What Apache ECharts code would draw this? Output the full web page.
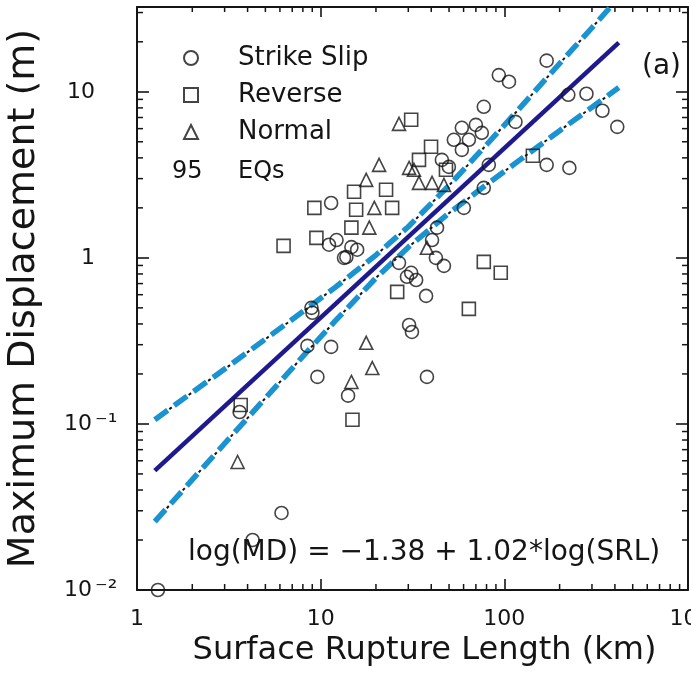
<!DOCTYPE html>
<html><head><meta charset="utf-8">
<script src="https://cdn.jsdelivr.net/npm/echarts@6/dist/echarts.min.js"></script>
<style>html,body{margin:0;padding:0;background:#fff}#c{width:691px;height:688px}</style>
</head><body><div id="c"></div>
<script>
// ---- data (SRL km, MD m) ----
const strikeSlip = [
 [1.30,0.0100],[4.26,0.0200],[6.12,0.0291],[9.02,0.467],[8.91,0.500],[8.47,0.295],[11.4,0.291],
 [9.60,0.192],[3.62,0.118],[14.1,0.148],[37.9,0.192],[30.3,0.394],[31.4,0.358],
 [46.9,0.895],[37.5,0.590],[13.8,1.01],[60.2,2.00],[77.3,2.64],[43.0,1.52],
 [170,15.4],[93.3,12.6],[106,11.5],[77.3,8.12],[223,9.59],[280,9.73],[342,7.69],
 [412,6.15],[170,3.63],[226,3.48],[58.7,6.07],[70.0,6.32],[75.4,5.66],[115,6.59],[82.3,3.63],
 [45.7,3.89],[49.9,3.53],[53.1,5.14],[64.1,5.14],[11.4,2.14],[11.1,1.20],[12.2,1.28],[13.4,1.00],
 [14.7,1.16],[15.8,1.12],[26.7,0.933],[31.1,0.813],[29.5,0.769],[33.1,0.736],[42.4,1.00],[40.4,1.28],
 [58.7,4.47]
];
const reverse = [
 [3.67,0.130],[14.9,0.106],[26.1,0.624],[64.1,0.493],[77.3,0.946],[95.6,0.813],
 [6.28,1.18],[9.24,2.00],[9.48,1.32],[15.2,2.50],[15.6,1.95],[24.5,2.00],[14.7,1.52],
 [31.1,6.78],[39.9,4.67],[143,4.12],[22.7,2.57],[34.3,3.89],[48.1,3.39]
];
const normal = [
 [3.53,0.0590],[17.7,0.308],[19.1,0.217],[14.7,0.179],[26.7,6.41],[20.8,3.63],
 [17.7,2.95],[19.6,2.00],[18.4,1.52],[34.3,2.83],[40.4,2.83],[37.9,1.15],[30.3,3.48],
 [32.2,3.39],[46.9,2.75]
];
const fitLine = [[1.25,0.0523],[420,19.75]];
const upperBand = [[1.25,0.106],[2,0.155],[3,0.214],[5,0.324],[8,0.475],[12,0.664],[20,1.04],
 [30,1.54],[50,2.73],[80,4.80],[120,7.87],[200,14.8],[300,24.3],[420,36.9]];
const lowerBand = [[1.25,0.0258],[2,0.0462],[3,0.0762],[5,0.143],[8,0.255],[12,0.417],[20,0.757],
 [30,1.16],[50,1.86],[80,2.76],[120,3.85],[200,5.83],[300,8.07],[420,10.6]];

const xTickExps = [0,1,2,3];
const xTickLabels = ['1','10','100','10³'];
const yTickExps = [-2,-1,0,1];
const yTickLabels = ['10⁻²','10⁻¹','1','10'];
const xMinorTicks = [2,3,4,5,6,7,8,9,20,30,40,50,60,70,80,90,200,300,400,500,600,700,800,900];
const yMinorTicks = [0.02,0.03,0.04,0.05,0.06,0.07,0.08,0.09,0.2,0.3,0.4,0.5,0.6,0.7,0.8,0.9,2,3,4,5,6,7,8,9,20,30];

const X_MIN = 1, X_MAX = 1000, Y_MIN = 0.01, Y_MAX = 32.4;
const FONT = 'DejaVu Sans';
const INK = '#151515';

function expOf(v){ const l = Math.log10(v); const e = Math.round(l); return Math.abs(l-e) < 1e-6 ? e : null; }
function xFmt(v){ const e = expOf(v); const i = xTickExps.indexOf(e); return e===null||i<0 ? '' : xTickLabels[i]; }
function yFmt(v){
  const e = expOf(v); const i = yTickExps.indexOf(e);
  if (e===null || i<0) return '';
  const s = yTickLabels[i];
  if (s.length > 2) return '{a|' + s.slice(0,2) + '}{b|' + s.slice(2) + '}';
  return '{a|' + s + '}';
}

const chart = echarts.init(document.getElementById('c'), null, {renderer:'canvas'});
const tickStyle = {color: INK, width: 1.6};
const axisLineStyle = {color: INK, width: 2};

function minorRender(isX){
  return function(params, api){
    const v = api.value(isX ? 0 : 1);
    const st = {stroke: INK, lineWidth: 1.5};
    if (isX) {
      const b = api.coord([v, Y_MIN]), t = api.coord([v, Y_MAX]);
      return {type:'group', children:[
        {type:'line', shape:{x1:b[0], y1:b[1], x2:b[0], y2:b[1]-6}, style:st},
        {type:'line', shape:{x1:t[0], y1:t[1], x2:t[0], y2:t[1]+5}, style:st}
      ]};
    }
    const l = api.coord([X_MIN, v]), r = api.coord([X_MAX, v]);
    return {type:'group', children:[
      {type:'line', shape:{x1:l[0], y1:l[1], x2:l[0]+6, y2:l[1]}, style:st},
      {type:'line', shape:{x1:r[0], y1:r[1], x2:r[0]-6, y2:r[1]}, style:st}
    ]};
  };
}

const symStyle = {color:'rgba(0,0,0,0)', borderColor: INK, borderWidth: 1.6};

chart.setOption({
  animation: false,
  backgroundColor: '#fff',
  grid: {left: 137, right: 3, top: 7, bottom: 98, containLabel: false, outerBoundsMode: 'none'},
  legend: {
    orient: 'vertical', left: 183, top: 45, padding: 0, itemWidth: 14, itemHeight: 14, itemGap: 11,
    data: ['Strike Slip','Reverse','Normal'],
    textStyle: {fontFamily: FONT, fontSize: 26, color: INK, lineHeight: 24, padding: [0,0,0,35]},
    selectedMode: false
  },
  xAxis: [{
    type: 'log', logBase: 10, min: X_MIN, max: X_MAX, position: 'bottom',
    name: 'Surface Rupture Length (km)', nameLocation: 'middle', nameGap: 42,
    nameTextStyle: {fontFamily: FONT, fontSize: 32, color: INK, padding: [0,0,0,24]},
    axisLine: {lineStyle: axisLineStyle}, axisTick: {inside: true, length: 11, lineStyle: tickStyle},
    axisLabel: {formatter: xFmt, fontFamily: FONT, fontSize: 22, color: INK, margin: 18, showMaxLabel: true},
    splitLine: {show: false}, minorTick: {show: false}
  },{
    type: 'log', logBase: 10, min: X_MIN, max: X_MAX, position: 'top',
    axisLine: {lineStyle: axisLineStyle}, axisTick: {inside: true, length: 10, lineStyle: tickStyle},
    axisLabel: {show: false}, splitLine: {show: false}
  }],
  yAxis: [{
    type: 'log', logBase: 10, min: Y_MIN, max: Y_MAX, position: 'left',
    name: 'Maximum Displacement (m)', nameLocation: 'middle', nameGap: 94,
    nameTextStyle: {fontFamily: FONT, fontSize: 38, color: INK},
    axisLine: {lineStyle: axisLineStyle}, axisTick: {inside: true, length: 12, lineStyle: tickStyle},
    axisLabel: {formatter: yFmt, align: 'left', margin: 76, color: INK,
      rich: {a: {fontFamily: FONT, fontSize: 22, color: INK, width: 34, align: 'right'},
             b: {fontFamily: FONT, fontSize: 24, color: INK}}},
    splitLine: {show: false}
  },{
    type: 'log', logBase: 10, min: Y_MIN, max: Y_MAX, position: 'right',
    axisLine: {lineStyle: axisLineStyle}, axisTick: {inside: true, length: 12, lineStyle: tickStyle},
    axisLabel: {show: false}, splitLine: {show: false}
  }],
  graphic: [
    {type:'text', left: 172, top: 160, style:{text:'95', font:'24px "DejaVu Sans"', fill: INK}},
    {type:'text', left: 238, top: 160, style:{text:'EQs', font:'24px "DejaVu Sans"', fill: INK}},
    {type:'text', left: 642, top: 53, style:{text:'(a)', font:'28px "DejaVu Sans"', fill: INK}},
    {type:'text', left: 188, top: 539, style:{text:'log(MD) = −1.38 + 1.02*log(SRL)', font:'28px "DejaVu Sans"', fill: INK}}
  ],
  series: [
    {type:'custom', name:'xminor', silent:true, data: xMinorTicks.map(v=>[v, Y_MIN]), renderItem: minorRender(true), z: 5},
    {type:'custom', name:'yminor', silent:true, data: yMinorTicks.map(v=>[X_MIN, v]), renderItem: minorRender(false), z: 5},
    {type:'line', name:'upperK', data: upperBand, showSymbol:false, silent:true, z: 3,
      lineStyle:{color: INK, width: 2, type:[3,21], dashOffset: 6}},
    {type:'line', name:'lowerK', data: lowerBand, showSymbol:false, silent:true, z: 3,
      lineStyle:{color: INK, width: 2, type:[3,21], dashOffset: 6}},
    {type:'line', name:'upper', data: upperBand, showSymbol:false, silent:true, z: 4,
      lineStyle:{color:'#1a93d0', width: 5.5, type:[16,8]}},
    {type:'line', name:'lower', data: lowerBand, showSymbol:false, silent:true, z: 4,
      lineStyle:{color:'#1a93d0', width: 5.5, type:[16,8]}},
    {type:'line', name:'fit', data: fitLine, showSymbol:false, silent:true, z: 4,
      lineStyle:{color:'#1e1a8e', width: 4.5}},
    {type:'scatter', name:'Strike Slip', data: strikeSlip, symbol:'circle', symbolSize: 13, clip:false, itemStyle: symStyle, z: 6},
    {type:'scatter', name:'Reverse', data: reverse, symbol:'rect', symbolSize: 13, clip:false, itemStyle: symStyle, z: 6},
    {type:'scatter', name:'Normal', data: normal, symbol:'triangle', symbolSize: 13, clip:false, itemStyle: symStyle, z: 6}
  ]
});
</script></body></html>
